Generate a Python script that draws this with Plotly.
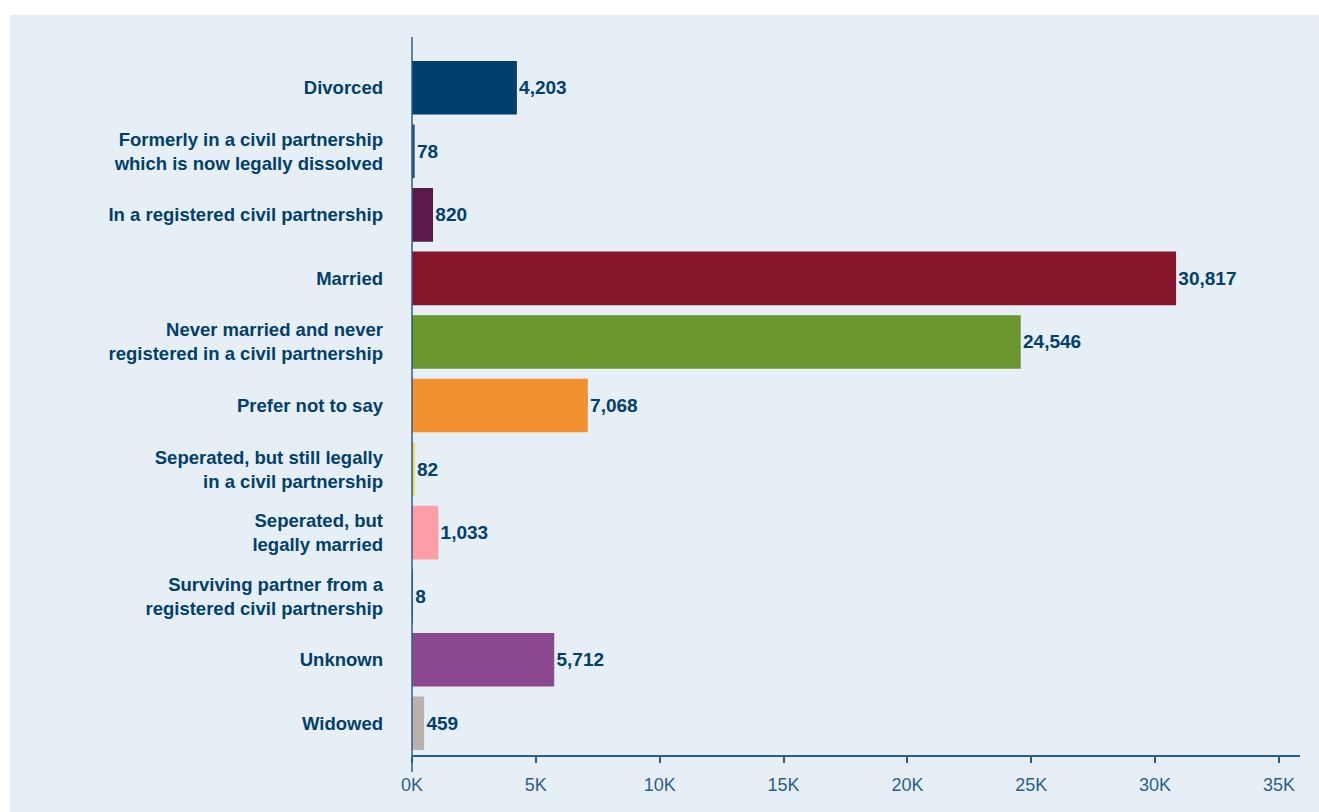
import plotly.graph_objects as go

categories = [
    "Divorced",
    "Formerly in a civil partnership<br>which is now legally dissolved",
    "In a registered civil partnership",
    "Married",
    "Never married and never<br>registered in a civil partnership",
    "Prefer not to say",
    "Seperated, but still legally<br>in a civil partnership",
    "Seperated, but<br>legally married",
    "Surviving partner from a<br>registered civil partnership",
    "Unknown",
    "Widowed",
]
values = [4203, 78, 820, 30817, 24546, 7068, 82, 1033, 8, 5712, 459]
colors = ["#003f6e", "#1f4e79", "#5b1a4a", "#86142b", "#6a972f", "#f39130",
          "#f5d847", "#ff9da7", "#1d5e6f", "#8c4891", "#bab0ac"]
tick_vals = [0, 5000, 10000, 15000, 20000, 25000, 30000, 35000]
tick_text = ["0K", "5K", "10K", "15K", "20K", "25K", "30K", "35K"]

navy = "#00406e"
W, H = 1319, 812
L, R, T, B = 412, 1300, 56, 755

def px_x(p):
    return (p - L) / (R - L)

def px_y(p):
    return (B - p) / (B - T)

fig = go.Figure(go.Bar(
    x=values, y=categories, orientation="h",
    marker=dict(color=colors, line=dict(color=colors, width=1.5)),
    text=values, texttemplate="%{x:,}", textposition="outside",
    textfont=dict(family="Liberation Sans, Arial, sans-serif", size=19, color=navy, weight="bold"),
    cliponaxis=False,
))

fig.update_layout(
    width=W, height=H,
    margin=dict(l=L, r=W - R, t=T, b=H - B),
    paper_bgcolor="white",
    plot_bgcolor="rgba(0,0,0,0)",
    bargap=0.18,
    showlegend=False,
    font=dict(family="Liberation Sans, Arial, sans-serif", color=navy),
    xaxis=dict(
        range=[0, 35850], tickvals=tick_vals, ticktext=tick_text,
        showgrid=False, zeroline=False,
        showline=True, linecolor="#2b5f8a", linewidth=2,
        ticks="outside", ticklen=6, tickcolor="#2b5f8a", tickwidth=1.5,
        tickfont=dict(size=18, color="#2b5f8a"),
        ticklabelstandoff=6,
    ),
    yaxis=dict(
        autorange="reversed", showgrid=False, zeroline=False,
        showline=False, ticks="",
        tickfont=dict(size=18.5, color=navy, weight="bold"),
        ticklabelstandoff=28,
    ),
    shapes=[
        dict(type="rect", xref="paper", yref="paper", layer="below",
             x0=px_x(10), x1=px_x(1330), y0=px_y(830), y1=px_y(15),
             fillcolor="#e6eff6", line=dict(width=0)),
        dict(type="line", xref="paper", yref="paper", layer="above",
             x0=0, x1=0, y0=px_y(772), y1=px_y(37),
             line=dict(color="#2b5f8a", width=1.5)),
    ],
)

fig.write_html(
    "out.html",
    config={"displayModeBar": False},
    post_script="document.body.style.margin='0';document.body.style.overflow='hidden';",
)
